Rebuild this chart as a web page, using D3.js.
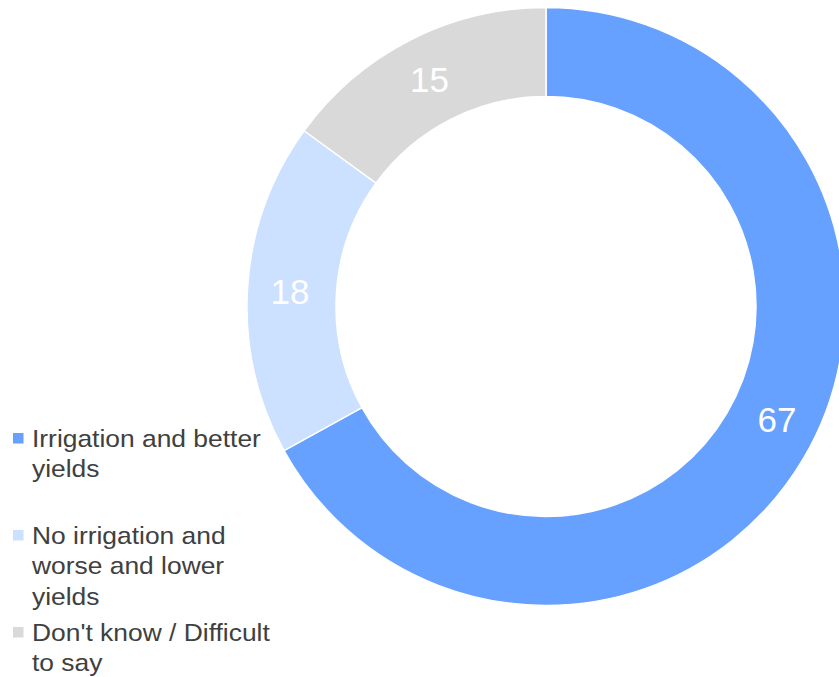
<!DOCTYPE html>
<html>
<head>
<meta charset="utf-8">
<script src="https://cdn.jsdelivr.net/npm/d3@7"></script>
<style>
  html, body { margin: 0; padding: 0; background: #fff; }
  svg { display: block; font-family: "Liberation Sans", Arial, sans-serif; }
</style>
</head>
<body>
<svg id="chart" width="839" height="677"></svg>
<script>
// Survey answers, percent of respondents
const categories = [
  ["Irrigation and better", "yields"],
  ["No irrigation and", "worse and lower", "yields"],
  ["Don't know / Difficult", "to say"]
];
const values = [67, 18, 15];
const colors = ["#66A1FF", "#CCE0FF", "#D9D9D9"];

const svg = d3.select("#chart");
const cx = 546, cy = 306.5, outerR = 299, innerR = 210;

const pie = d3.pie().sort(null).value(d => d)
  .startAngle(0).endAngle(2 * Math.PI);
const arcs = pie(values);
const arc = d3.arc().innerRadius(innerR).outerRadius(outerR);

const g = svg.append("g").attr("transform", `translate(${cx},${cy})`);

g.selectAll("path.slice")
  .data(arcs)
  .join("path")
  .attr("class", "slice")
  .attr("d", arc)
  .attr("fill", (d, i) => colors[i])
  .attr("stroke", "#fff")
  .attr("stroke-width", 1.5)
  .attr("stroke-linejoin", "round");

// Value labels sit mid-ring; the big slice's label is nudged toward its start
const labelR = (innerR + outerR) / 2 + 2;
const nudge = [-0.085, 0, 0];
g.selectAll("text.value")
  .data(arcs)
  .join("text")
  .attr("class", "value")
  .attr("x", (d, i) => labelR * Math.sin((d.startAngle + d.endAngle) / 2 + nudge[i]))
  .attr("y", (d, i) => -labelR * Math.cos((d.startAngle + d.endAngle) / 2 + nudge[i]) + 1.5)
  .attr("text-anchor", "middle")
  .attr("dominant-baseline", "central")
  .attr("fill", "#fff")
  .attr("font-size", 35)
  .text(d => d.data);

// Legend: swatch plus wrapped label, slightly wide lettering
const legend = svg.append("g");
const item = legend.selectAll("g.item")
  .data(categories)
  .join("g")
  .attr("class", "item")
  .attr("transform", (d, i) => `translate(0,${447 + i * 97})`);

item.append("rect")
  .attr("x", 13)
  .attr("y", -14)
  .attr("width", 10.5)
  .attr("height", 10.5)
  .attr("fill", (d, i) => colors[i]);

item.append("text")
  .attr("transform", "translate(32,0) scale(1.1,1)")
  .attr("fill", "#404040")
  .attr("font-size", 24)
  .selectAll("tspan")
  .data(d => d)
  .join("tspan")
  .attr("x", 0)
  .attr("y", (d, j) => j * 30.3)
  .text(d => d);
</script>
</body>
</html>
